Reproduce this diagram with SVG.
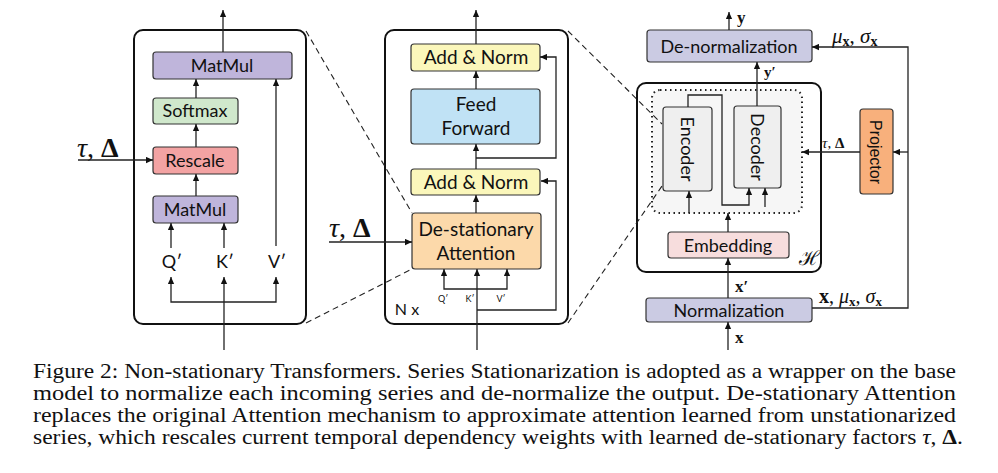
<svg xmlns="http://www.w3.org/2000/svg" width="998" height="473" viewBox="0 0 998 473">
<defs>
<marker id="ah" viewBox="0 0 10 10" refX="10" refY="5" markerWidth="8" markerHeight="7" markerUnits="userSpaceOnUse" orient="auto"><path d="M0,0.5 L10,5 L0,9.5 z" fill="#111"/></marker>
<style>
.panel{fill:#fff;stroke:#111;stroke-width:2}
.box{stroke:#333;stroke-width:1.2}
.lbl{font-family:Lato,"Open Sans",sans-serif;fill:#111;text-anchor:middle}
.a{fill:none;stroke:#222;stroke-width:1.3;marker-end:url(#ah)}
.d{fill:none;stroke:#222;stroke-width:1.1;stroke-dasharray:6,4}
.m{font-family:"Liberation Serif","DejaVu Serif",serif;fill:#111}
.cap{font-family:"Liberation Serif","Times New Roman",serif;font-size:20.5px;fill:#111}
</style>
</defs>
<rect width="998" height="473" fill="#fff"/>

<g id="left-panel">
<rect class="panel" x="134" y="30" width="172" height="294" rx="9"/>
</g>
<g id="matmul-top"><rect class="box" x="153" y="52" width="139" height="27" rx="3" fill="#bfb5db"/><text class="lbl" x="222" y="72" font-size="18">MatMul</text></g>
<g id="softmax"><rect class="box" x="153" y="98" width="85" height="26" rx="3" fill="#d0e8cc"/><text class="lbl" x="195" y="117" font-size="18">Softmax</text></g>
<g id="rescale"><rect class="box" x="153" y="147" width="85" height="27" rx="3" fill="#f3a3a3"/><text class="lbl" x="195" y="167" font-size="18">Rescale</text></g>
<g id="matmul-bottom"><rect class="box" x="153" y="196" width="85" height="27" rx="3" fill="#bfb5db"/><text class="lbl" x="195" y="216" font-size="18">MatMul</text></g>
<g id="qkv-left">
<text class="lbl" x="172" y="268" font-size="18">Q′</text>
<text class="lbl" x="225" y="268" font-size="18">K′</text>
<text class="lbl" x="277" y="268" font-size="18">V′</text>
</g>
<g id="tau-left"><text class="m" x="77" y="157" font-size="28"><tspan font-style="italic">τ</tspan>, <tspan font-weight="bold">Δ</tspan></text></g>

<g id="middle-panel">
<rect class="panel" x="385" y="30" width="183" height="294" rx="9"/>
<text class="lbl" x="407" y="315" font-size="16">N x</text>
</g>
<g id="addnorm-top"><rect class="box" x="411" y="44" width="129" height="27" rx="3" fill="#fbf7bb"/><text class="lbl" x="476" y="64" font-size="19">Add &amp; Norm</text></g>
<g id="feedforward"><rect class="box" x="411" y="89" width="129" height="55" rx="3" fill="#c0e2f5"/><text class="lbl" x="476" y="111" font-size="19">Feed</text><text class="lbl" x="476" y="135" font-size="19">Forward</text></g>
<g id="addnorm-bottom"><rect class="box" x="411" y="169" width="129" height="26" rx="3" fill="#fbf7bb"/><text class="lbl" x="476" y="189" font-size="19">Add &amp; Norm</text></g>
<g id="destationary-attention"><rect class="box" x="412" y="213" width="129" height="56" rx="3" fill="#fcd9aa"/><text class="lbl" x="476" y="236" font-size="19">De-stationary</text><text class="lbl" x="476" y="260" font-size="19">Attention</text></g>
<g id="qkv-mid">
<text class="lbl" x="443" y="302" font-size="9">Q′</text>
<text class="lbl" x="470" y="302" font-size="9">K′</text>
<text class="lbl" x="501" y="302" font-size="9">V′</text>
</g>
<g id="tau-mid"><text class="m" x="329" y="237" font-size="28"><tspan font-style="italic">τ</tspan>, <tspan font-weight="bold">Δ</tspan></text></g>

<g id="denormalization"><rect class="box" x="647" y="30" width="165" height="32" rx="3" fill="#cbcbe3"/><text class="lbl" x="729" y="53" font-size="18">De-normalization</text></g>
<g id="label-y"><text class="m" x="737" y="23" font-size="17" font-weight="bold">y</text></g>
<g id="label-mu-top"><text class="m" x="832" y="43" font-size="21"><tspan font-style="italic">μ</tspan><tspan font-weight="bold" font-size="14" dy="3">x</tspan><tspan dy="-3">, </tspan><tspan font-style="italic">σ</tspan><tspan font-weight="bold" font-size="14" dy="3">x</tspan></text></g>
<g id="model-H">
<rect class="panel" x="637" y="83" width="184" height="189" rx="9"/>
<text x="799" y="265" font-family="DejaVu Serif,serif" font-size="20" fill="#111">ℋ</text>
</g>
<g id="encdec-wrapper"><rect x="652" y="90" width="150" height="123" rx="8" fill="#f6f6f6" stroke="#222" stroke-width="2" stroke-dasharray="1.5,3.5"/></g>
<g id="encoder"><rect class="box" x="663" y="107" width="49" height="84" rx="3" fill="#efefef"/><text class="lbl" transform="translate(687,149) rotate(90)" y="6" font-size="18">Encoder</text></g>
<g id="decoder"><rect class="box" x="734" y="106" width="47" height="82" rx="3" fill="#efefef"/><text class="lbl" transform="translate(757,147) rotate(90)" y="6" font-size="18">Decoder</text></g>
<g id="label-yprime"><text class="m" x="764" y="77" font-size="15" font-weight="bold">y′</text></g>
<g id="embedding"><rect class="box" x="668" y="232" width="121" height="26" rx="3" fill="#f7dddd"/><text class="lbl" x="728" y="252" font-size="18">Embedding</text></g>
<g id="normalization"><rect class="box" x="646" y="298" width="166" height="24" rx="3" fill="#cbcbe3"/><text class="lbl" x="729" y="317" font-size="18">Normalization</text></g>
<g id="label-xprime"><text class="m" x="735" y="292" font-size="17" font-weight="bold">x′</text></g>
<g id="label-x"><text class="m" x="735" y="343" font-size="17" font-weight="bold">x</text></g>
<g id="label-x-mu"><text class="m" x="819" y="303" font-size="20"><tspan font-weight="bold">x</tspan>, <tspan font-style="italic">μ</tspan><tspan font-weight="bold" font-size="13" dy="3">x</tspan><tspan dy="-3">, </tspan><tspan font-style="italic">σ</tspan><tspan font-weight="bold" font-size="13" dy="3">x</tspan></text></g>
<g id="projector"><rect class="box" x="860" y="109" width="33" height="85" rx="3" fill="#f8b07c"/><text transform="translate(876,152) rotate(90)" y="6" font-family="Liberation Sans,Arial,sans-serif" font-size="16" text-anchor="middle" fill="#111">Projector</text></g>
<g id="label-tau-right"><text class="m" x="822" y="148" font-size="15"><tspan font-style="italic">τ</tspan>, <tspan font-weight="bold">Δ</tspan></text></g>

<g id="connectors">
<path class="a" d="M223,52 L223,10"/>
<path class="a" d="M196,98 L196,79"/>
<path class="a" d="M196,147 L196,124"/>
<path class="a" d="M196,196 L196,174"/>
<path class="a" d="M171,248 L171,223"/>
<path class="a" d="M224,248 L224,223"/>
<path class="a" d="M276,246 L276,79"/>
<path class="a" d="M224,350 L224,277"/>
<path class="a" d="M224,302 L171,302 L171,277"/>
<path class="a" d="M224,302 L276,302 L276,277"/>
<path class="a" d="M78,160 L153,160"/>
<path class="a" d="M476,44 L476,10"/>
<path class="a" d="M476,89 L476,71"/>
<path class="a" d="M476,169 L476,144"/>
<path class="a" d="M476,213 L476,195"/>
<path class="a" d="M476,158 L556,158 L556,57 L540,57"/>
<path class="a" d="M477,310 L556,310 L556,181 L541,181"/>
<path class="a" d="M477,350 L477,269"/>
<path class="a" d="M477,289 L444,289 L444,269"/>
<path class="a" d="M477,289 L507,289 L507,269"/>
<path class="a" d="M329,242 L412,242"/>
<path class="d" d="M306,31 L412,213"/>
<path class="d" d="M306,323 L412,269"/>
<path class="d" d="M568,31 L662,124"/>
<path class="d" d="M568,323 L662,186"/>
<path class="a" d="M729,30 L729,12"/>
<path class="a" d="M757,106 L757,62"/>
<path class="a" d="M688,107 L688,95 L722,95 L722,205 L749,205 L749,188"/>
<path class="a" d="M765,207 L765,188"/>
<path class="a" d="M689,213 L689,191"/>
<path class="a" d="M728,232 L728,213"/>
<path class="a" d="M728,298 L728,258"/>
<path class="a" d="M728,350 L728,322"/>
<path class="a" d="M812,308 L908,308 L908,47 L812,47"/>
<path class="a" d="M908,152 L893,152"/>
<path class="a" d="M860,152 L802,152"/>
</g>

<g id="caption">
<text class="cap" x="33" y="378" textLength="923" lengthAdjust="spacingAndGlyphs">Figure 2: Non-stationary Transformers. Series Stationarization is adopted as a wrapper on the base</text>
<text class="cap" x="33" y="400" textLength="923" lengthAdjust="spacingAndGlyphs">model to normalize each incoming series and de-normalize the output.  De-stationary Attention</text>
<text class="cap" x="33" y="422" textLength="923" lengthAdjust="spacingAndGlyphs">replaces the original Attention mechanism to approximate attention learned from unstationarized</text>
<text class="cap" x="33" y="444" textLength="930" lengthAdjust="spacingAndGlyphs">series, which rescales current temporal dependency weights with learned de-stationary factors <tspan font-style="italic">τ</tspan>, <tspan font-weight="bold">Δ</tspan>.</text>
</g>
</svg>
